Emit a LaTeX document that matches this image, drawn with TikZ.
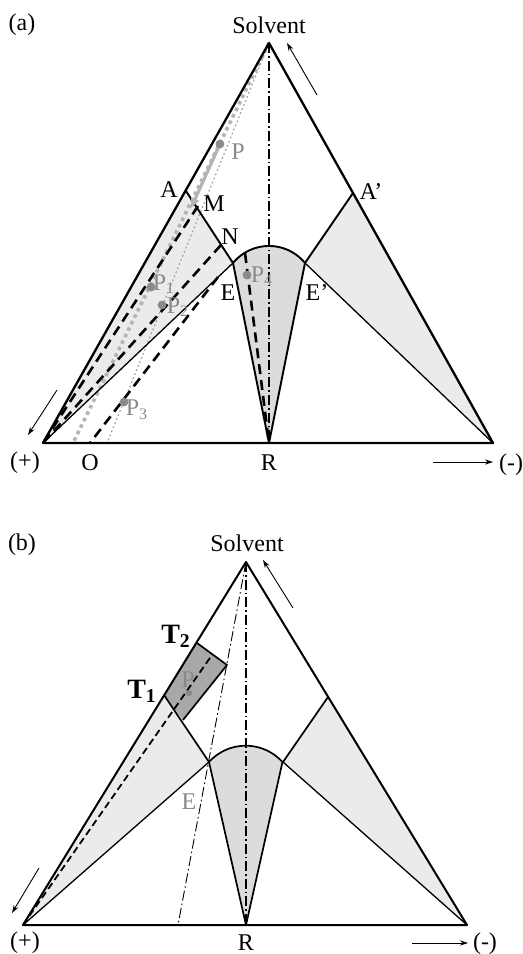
\documentclass[tikz,border=0pt]{standalone}
\usepackage{fontspec}
\setmainfont{Liberation Serif}
\usetikzlibrary{arrows.meta}
\providecommand{\Pale}{EBEBEB}
\providecommand{\Mid}{DCDCDC}
\providecommand{\Deep}{A8A8A8}
\providecommand{\Faint}{8A8A8A}
\providecommand{\Silver}{B4B4B4}
\newcommand{\Unit}{0.5pt}
\newcommand{\Frame}{1.15pt}
\newcommand{\Fine}{0.65pt}
\definecolor{pale}{HTML}{\Pale}
\definecolor{mid}{HTML}{\Mid}
\definecolor{deep}{HTML}{\Deep}
\definecolor{faint}{HTML}{\Faint}
\definecolor{silver}{HTML}{\Silver}

\tikzset{
  frame/.style={draw=black,line width=\Frame},
  inner/.style={draw=black,line width=0.95pt},
  fine/.style={draw=black,line width=\Fine},
  tieline/.style={draw=black,line width=1.3pt,dash pattern=on 5pt off 3pt},
  axisline/.style={draw=black,line width=0.55pt,dash pattern=on 5pt off 1.5pt on 0.8pt off 1.5pt},
  cloud/.style={draw=silver,line width=1.8pt,dash pattern=on 1.8pt off 1.8pt},
  thread/.style={draw=faint!80,line width=0.6pt,dash pattern=on 0.9pt off 1.3pt},
  flow/.style={draw=black,line width=0.45pt,-{Stealth[length=4pt,width=2.6pt]}},
  tag/.style={font=\fontsize{12}{13}\selectfont,inner sep=0pt},
  greytag/.style={tag,text=faint},
  boldtag/.style={font=\fontsize{14}{15}\selectfont\bfseries,inner sep=0pt},
}

\begin{document}
\begin{tikzpicture}[x=\Unit,y=-\Unit, line join=round]
  \useasboundingbox (0,0) rectangle (523,954);

  % ---- panel (a): points -------------------------------------------------
  \coordinate (aS)  at (269,43);
  \coordinate (aL)  at (43,443);
  \coordinate (aRt) at (493,443);
  \coordinate (aR)  at (269,443);
  \coordinate (aA)  at (186,191);
  \coordinate (aAp) at (353,193);
  \coordinate (aM)  at (198,206);
  \coordinate (aN)  at (221,245);
  \coordinate (aE)  at (233,263);
  \coordinate (aEp) at (305,263);
  \coordinate (aO)  at (90,443);
  \coordinate (aK)  at (218,277);
  \coordinate (aW)  at (245,253);
  \coordinate (aQ)  at (73,443);
  \coordinate (aU)  at (107,443);
  \coordinate (aP)  at (220,144);
  \coordinate (aTip) at (191,208);

  % ---- panel (a): shaded regions -----------------------------------------
  \fill[pale] (aL) -- (aA) -- (aE) -- cycle;
  \fill[pale] (aAp) -- (aRt) -- (aEp) -- cycle;
  \fill[mid] (aR) -- (aE) arc[start angle=140.6,end angle=39.4,radius=23.3pt] -- cycle;

  % ---- panel (a): grey construction lines --------------------------------
  \draw[cloud] (aS) -- (aQ);
  \draw[thread] (aS) -- (aU);

  % ---- panel (a): boundaries ---------------------------------------------
  \draw[frame] (aL) -- (aS) -- (aRt) -- cycle;
  \draw[inner] (aA) -- (aE);
  \draw[inner] (aAp) -- (aEp);
  \draw[inner] (aR) -- (aE) arc[start angle=140.6,end angle=39.4,radius=23.3pt] -- (aR);
  \draw[fine] (aE) -- (aL);
  \draw[fine] (aEp) -- (aRt);
  \draw[axisline] (aS) -- (aR);

  % ---- panel (a): tie lines ----------------------------------------------
  \draw[tieline] (aM) -- (aL);
  \draw[tieline] (aN) -- (aL);
  \draw[tieline] (aK) -- (aO);
  \draw[tieline] (aW) -- (aR);
  \draw[silver,line width=1.6pt,-{Triangle[length=5pt,width=4pt]}] (aP) -- (aTip);

  % ---- panel (a): feed points --------------------------------------------
  \fill[faint] (aP) circle[radius=2.2pt];
  \fill[faint] (151,287) coordinate (aPa) circle[radius=2.2pt];
  \fill[faint] (162,305) coordinate (aPb) circle[radius=2.2pt];
  \fill[faint] (124,402) coordinate (aPc) circle[radius=2.2pt];
  \fill[faint] (247,275) coordinate (aPd) circle[radius=2.2pt];

  % ---- panel (a): direction arrows ---------------------------------------
  \draw[flow] (317,95) coordinate (aF1) -- (287,43);
  \draw[flow] (57,390) coordinate (aF2) -- (28,435);
  \draw[flow] (433,462) coordinate (aF3) -- (493,462);

  % ---- panel (a): labels -------------------------------------------------
  \node[tag] (aTitle) at (22,25) {(a)};
  \node[tag] (aSolv) at (269,25) {Solvent};
  \node[tag] (aPlus) at (25,463) {(+)};
  \node[tag] (aOlab) at (90,463) {O};
  \node[tag] (aRlab) at (269,463) {R};
  \node[tag] (aMinus) at (511,465) {(-)};
  \node[tag] (aAlab) at (169,190) {A};
  \node[tag] (aAplab) at (371,192) {A'};
  \node[tag] (aMlab) at (214,204) {M};
  \node[tag] (aNlab) at (230,237) {N};
  \node[tag] (aElab) at (228,293) {E};
  \node[tag] (aEplab) at (317,293) {E'};
  \node[greytag] (aPlab) at (238,152) {P};
  \node[greytag] (aPalab) at (164,284) {P\textsubscript{1}};
  \node[greytag] (aPblab) at (178,307) {P\textsubscript{2}};
  \node[greytag] (aPclab) at (137,410) {P\textsubscript{3}};
  \node[greytag] (aPdlab) at (262,276) {P\textsubscript{4}};

  % ---- panel (b): points -------------------------------------------------
  \coordinate (bS)  at (246,562);
  \coordinate (bL)  at (23,925);
  \coordinate (bRt) at (467,925);
  \coordinate (bR)  at (246,925);
  \coordinate (bT1) at (164,695);
  \coordinate (bT2) at (197,643);
  \coordinate (bC)  at (227,665);
  \coordinate (bD)  at (183,720);
  \coordinate (bAp) at (328,697);
  \coordinate (bE)  at (209,762);
  \coordinate (bEp) at (283,762);
  \coordinate (bQ)  at (212,655);
  \coordinate (bF)  at (178,925);
  \coordinate (bP)  at (189,693);

  % ---- panel (b): shaded regions -----------------------------------------
  \fill[pale] (bL) -- (bT1) -- (bE) -- cycle;
  \fill[pale] (bAp) -- (bRt) -- (bEp) -- cycle;
  \fill[mid] (bR) -- (bE) arc[start angle=137.8,end angle=42.2,radius=24.8pt] -- cycle;
  \fill[deep] (bT1) -- (bT2) -- (bC) -- (bD) -- cycle;

  % ---- panel (b): boundaries ---------------------------------------------
  \draw[frame,line width=1pt] (bL) -- (bS) -- (bRt) -- cycle;
  \draw[inner,line width=0.85pt] (bT1) -- (bE);
  \draw[inner,line width=0.85pt] (bAp) -- (bEp);
  \draw[inner,line width=0.85pt] (bR) -- (bE) arc[start angle=137.8,end angle=42.2,radius=24.8pt] -- (bR);
  \draw[inner,line width=0.85pt] (bT2) -- (bC) -- (bD);
  \draw[fine] (bE) -- (bL);
  \draw[fine] (bEp) -- (bRt);
  \draw[axisline] (bS) -- (bR);
  \draw[axisline,line width=0.45pt] (bS) -- (bF);
  \draw[tieline,line width=0.9pt,dash pattern=on 3.5pt off 2pt] (bL) -- (bQ);
  \fill[faint] (bP) circle[radius=1.6pt];

  % ---- panel (b): direction arrows ---------------------------------------
  \draw[flow] (293,608) coordinate (bF1) -- (263,560);
  \draw[flow] (39,868) coordinate (bF2) -- (12,913);
  \draw[flow] (412,943) coordinate (bF3) -- (468,943);

  % ---- panel (b): labels -------------------------------------------------
  \node[tag] (bTitle) at (22,545) {(b)};
  \node[tag] (bSolv) at (247,543) {Solvent};
  \node[boldtag] (bT2lab) at (176,636) {T\textsubscript{2}};
  \node[boldtag] (bT1lab) at (142,691) {T\textsubscript{1}};
  \node[greytag] (bPlab) at (188,680) {P};
  \node[greytag] (bElab) at (189,802) {E};
  \node[tag] (bPlus) at (25,943) {(+)};
  \node[tag] (bRlab) at (246,943) {R};
  \node[tag] (bMinus) at (485,944) {(-)};

\end{tikzpicture}
\end{document}
